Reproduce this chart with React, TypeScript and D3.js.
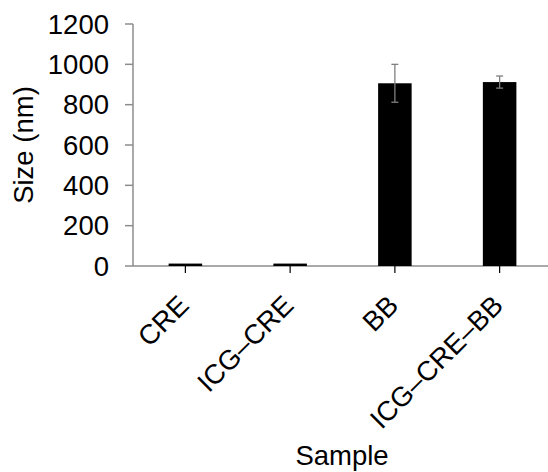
import React from "react";
import * as d3 from "d3";

const categories = ["CRE", "ICG–CRE", "BB", "ICG–CRE–BB"];
const values = [12, 12, 906, 912];
const errors = [0, 0, 94, 30];
const yTicks = [0, 200, 400, 600, 800, 1000, 1200];

const W = 548;
const H = 472;
const FONT = "'Liberation Sans', Arial, sans-serif";
const FS = 27.5;

export default function App() {
  const x = d3.scaleBand<string>().domain(categories).range([133, 552]).padding(0);
  const y = d3.scaleLinear().domain([0, 1200]).range([266, 24]);
  const step = x.step();
  const barW = step * 0.32;
  const axisColor = "#8c8c8c";
  return (
    <svg width={W} height={H} style={{ position: "absolute", left: 0, top: 0, background: "#fff" }}>
      <line x1={133} x2={133} y1={y(1200)} y2={y(0)} stroke={axisColor} strokeWidth={1.5} />
      <line x1={133} x2={W} y1={y(0)} y2={y(0)} stroke={axisColor} strokeWidth={1.5} />
      {categories.map((c, i) => {
        const cx = (x(c) as number) + step / 2;
        return (
          <rect key={c} x={cx - barW / 2} y={y(values[i])} width={barW} height={y(0) - y(values[i])} fill="#000" />
        );
      })}
      {yTicks.map((t) => (
        <g key={t}>
          <line x1={125} x2={133} y1={y(t)} y2={y(t)} stroke={axisColor} strokeWidth={1.5} />
          <text x={109} y={y(t)} dy="0.35em" textAnchor="end" fontFamily={FONT} fontSize={FS} fill="#000">
            {t}
          </text>
        </g>
      ))}
      {categories.map((c) => {
        const cx = (x(c) as number) + step / 2;
        return (
          <g key={c}>
            <line x1={cx} x2={cx} y1={y(0)} y2={y(0) + 7} stroke="#000" strokeWidth={1.2} />
            <text
              transform={`translate(${cx + 5},${y(0) + 41}) rotate(-45)`}
              textAnchor="end"
              fontFamily={FONT}
              fontSize={FS}
              fill="#000"
            >
              {c}
            </text>
          </g>
        );
      })}
      {categories.map((c, i) => {
        if (!errors[i]) return null;
        const cx = (x(c) as number) + step / 2;
        const hi = y(values[i] + errors[i]);
        const lo = y(values[i] - errors[i]);
        return (
          <g key={c} stroke="#7f7f7f" strokeWidth={1.3}>
            <line x1={cx} x2={cx} y1={hi} y2={lo} />
            <line x1={cx - 3.5} x2={cx + 3.5} y1={hi} y2={hi} />
            <line x1={cx - 3.5} x2={cx + 3.5} y1={lo} y2={lo} />
          </g>
        );
      })}
      <text
        transform={`translate(33,${(y(0) + y(1200)) / 2}) rotate(-90)`}
        textAnchor="middle"
        fontFamily={FONT}
        fontSize={FS}
        fill="#000"
      >
        Size (nm)
      </text>
      <text x={342} y={465} textAnchor="middle" fontFamily={FONT} fontSize={FS} fill="#000">
        Sample
      </text>
    </svg>
  );
}
